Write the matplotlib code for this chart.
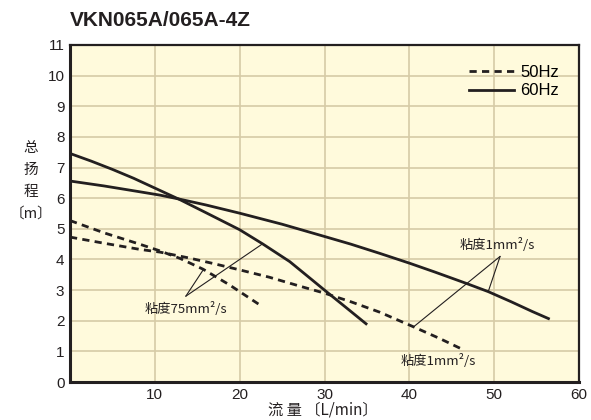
import matplotlib
matplotlib.use("Agg")
import matplotlib.pyplot as plt

# 曲線データ (流量 L/min, 総揚程 m)
q_60_1 = [0, 4, 8.2, 10.6, 12.9, 16, 20, 25, 30, 33.1, 36.5, 40, 43, 46.7, 49.3, 52, 54.5, 56.4]
h_60_1 = [6.56, 6.4, 6.21, 6.1, 5.97, 5.78, 5.51, 5.15, 4.75, 4.5, 4.2, 3.88, 3.59, 3.22, 2.95, 2.62, 2.3, 2.07]

q_60_75 = [0, 2.5, 5, 7.5, 10, 12.9, 16, 20, 22.7, 25.9, 27.8, 30, 32.5, 34.9]
h_60_75 = [7.46, 7.21, 6.94, 6.65, 6.33, 5.96, 5.53, 4.97, 4.51, 3.93, 3.5, 3.0, 2.44, 1.9]

q_50_1 = [0, 4, 8.2, 10.6, 14, 17, 20, 23.5, 27.2, 30, 33.1, 36.5, 40.5, 43.5, 46.3]
h_50_1 = [4.73, 4.53, 4.33, 4.24, 4.05, 3.86, 3.66, 3.42, 3.12, 2.9, 2.62, 2.28, 1.8, 1.43, 1.06]

q_50_75 = [0, 4, 8.2, 10.6, 13, 15.7, 18.8, 22.35]
h_50_75 = [5.27, 4.87, 4.5, 4.28, 4.03, 3.68, 3.17, 2.52]

xticks = [10, 20, 30, 40, 50, 60]
yticks = list(range(0, 12))

# 注記 (頂点, 指し先)
ann75_apex = (13.65, 2.8)
ann75_pts = [(15.7, 3.66), (22.7, 4.51)]
ann1_apex = (50.7, 4.1)
ann1_pts = [(40.5, 1.8), (49.3, 2.95)]

ink = "#231f20"
cjk = ["Noto Sans CJK SC", "DejaVu Sans"]
plt.rcParams['font.family'] = ["Liberation Sans", "Noto Sans CJK SC", "DejaVu Sans"]
dash = (0, (2.6, 1.9))

fig = plt.figure(figsize=(5.91, 4.2), dpi=100)
ax = fig.add_axes([70 / 591, 1 - 382 / 420, 509 / 591, 337 / 420])
ax.set_facecolor("#fffadc")

ax.plot(q_50_1, h_50_1, color=ink, lw=2.0, ls=dash, label="50Hz")
ax.plot(q_60_1, h_60_1, color=ink, lw=2.0, label="60Hz")
ax.plot(q_50_75, h_50_75, color=ink, lw=2.0, ls=dash)
ax.plot(q_60_75, h_60_75, color=ink, lw=2.0)

for p in ann75_pts:
    ax.annotate("", xy=p, xytext=ann75_apex,
                arrowprops=dict(arrowstyle="-", lw=0.8, color=ink, shrinkA=0, shrinkB=0))
for p in ann1_pts:
    ax.annotate("", xy=p, xytext=ann1_apex,
                arrowprops=dict(arrowstyle="-", lw=0.8, color=ink, shrinkA=0, shrinkB=0))

ax.text(13.7, 2.39, "粘度75mm²/s", family=cjk,
        fontsize=9.5, color=ink, ha="center", va="center")
ax.text(50.35, 4.46, "粘度1mm²/s", family=cjk,
        fontsize=9.5, color=ink, ha="center", va="center")
ax.text(43.4, 0.67, "粘度1mm²/s", family=cjk,
        fontsize=9.5, color=ink, ha="center", va="center")

ax.set_xlim(0, 60)
ax.set_ylim(0, 11)
ax.set_xticks(xticks)
ax.set_yticks(yticks)
ax.tick_params(length=0, labelsize=11, colors=ink, pad=4)
ax.grid(True, color="#d6cba6", lw=1.2)
ax.set_axisbelow(True)
for s in ax.spines.values():
    s.set_color(ink)
    s.set_linewidth(1.6)
ax.spines["left"].set_linewidth(2.2)
ax.spines["bottom"].set_linewidth(2.2)

ax.legend(loc="upper right", bbox_to_anchor=(0.99, 0.985), frameon=False,
          fontsize=12, handlelength=2.7, handletextpad=0.35, labelspacing=0.2,
          borderaxespad=0.5)

fig.text(70 / 591, 1 - 20 / 420, "VKN065A/065A-4Z", fontsize=15, fontweight="bold",
         color=ink, ha="left", va="center")

for i, s in enumerate(["总", "扬", "程", "〔m〕"]):
    fig.text(31 / 591, 1 - (148 + i * 22) / 420, s, family=cjk, fontsize=10.5,
             color=ink, ha="center", va="center")

fig.text(323 / 591, 1 - 410 / 420, "流 量 〔L/min〕", family=cjk, fontsize=11,
         color=ink, ha="center", va="center")

fig.savefig("out.png", dpi=100)
